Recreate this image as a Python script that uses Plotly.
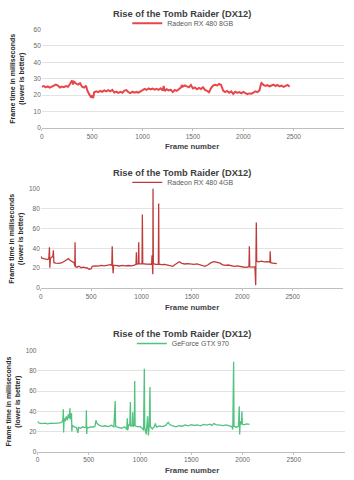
import plotly.graph_objects as go

TITLE = "Rise of the Tomb Raider (DX12)"
Y_TITLE = "Frame time in milliseconds<br>(lower is better)"
X_TITLE = "Frame number"
X_TICKS = [0, 500, 1000, 1500, 2000, 2500]

names = ["Radeon RX 480 8GB", "Radeon RX 480 4GB", "GeForce GTX 970"]
colors = ["#e8474a", "#c03a3a", "#52c27f"]

x1 = [0, 20, 40, 60, 80, 100, 120, 140, 160, 180, 200, 220, 240, 260, 280, 300, 310, 320, 340, 360,
      380, 400, 420, 440, 450, 460, 470, 480, 490, 500, 510, 520, 540, 560, 580, 600, 620, 640, 660, 680,
      700, 720, 740, 760, 780, 800, 820, 840, 860, 880, 900, 920, 940, 960, 980, 1000, 1020, 1040, 1060, 1080,
      1100, 1120, 1140, 1160, 1180, 1200, 1210, 1220, 1240, 1260, 1280, 1300, 1320, 1340, 1360, 1380, 1390, 1400, 1420, 1440,
      1460, 1480, 1500, 1520, 1540, 1560, 1580, 1600, 1620, 1640, 1660, 1680, 1700, 1720, 1740, 1760, 1780, 1800, 1820, 1840,
      1860, 1880, 1900, 1920, 1940, 1960, 1980, 2000, 2020, 2040, 2060, 2080, 2100, 2120, 2140, 2160, 2170, 2180, 2200, 2220,
      2240, 2260, 2280, 2300, 2320, 2340, 2360, 2380, 2400, 2420, 2440, 2460]
y1 = [25.2, 25.6, 24.8, 25.4, 24.6, 25.3, 25.8, 26.4, 25.9, 24.7, 25.3, 24.9, 25.5, 25.1, 26.8, 28.9, 26.5, 28.2, 27.1, 26.4,
      27.3, 25.2, 24.6, 25.8, 23.2, 21.4, 20.6, 19.8, 18.6, 19.9, 18.2, 21.8, 22.4, 21.9, 22.6, 22.1, 22.9, 22.3, 23.1, 22.4,
      23.2, 21.6, 22.2, 21.4, 22.0, 21.5, 22.8, 23.1, 21.8, 21.3, 22.1, 21.5, 22.0, 21.6, 22.4, 23.3, 23.8, 23.2, 24.1, 23.5,
      24.0, 23.4, 23.9, 23.3, 24.2, 22.8, 25.6, 22.5, 23.6, 22.9, 23.4, 21.9, 23.2, 22.6, 23.8, 24.6, 26.1, 25.2, 26.0, 25.3,
      24.8, 26.2, 24.1, 24.7, 23.6, 24.4, 23.8, 24.9, 23.2, 22.6, 21.8, 24.3, 25.8, 26.3, 25.9, 26.8, 26.2, 22.8, 21.9, 22.6,
      21.5, 22.3, 20.8, 22.1, 21.4, 21.9, 21.2, 22.0, 21.3, 20.7, 21.1, 20.9, 21.6, 22.4, 21.9, 22.8, 25.4, 27.4, 26.3, 25.6,
      26.1, 25.4, 25.9, 26.4, 25.6, 26.2, 25.3, 25.8, 25.1, 25.9, 26.3, 25.2]

x2 = [0, 10, 30, 50, 70, 80, 86, 90, 95, 110, 120, 125, 130, 150, 180, 210, 240, 260, 275, 290,
      310, 330, 338, 340, 343, 360, 380, 400, 420, 440, 460, 480, 500, 510, 540, 570, 600, 630, 660, 690,
      705, 709, 713, 718, 723, 750, 780, 810, 840, 870, 900, 930, 945, 949, 953, 969, 972, 975, 1005, 1008,
      1012, 1040, 1070, 1100, 1104, 1108, 1112, 1114, 1117, 1140, 1167, 1170, 1173, 1200, 1230, 1260, 1290, 1310, 1330, 1360,
      1375, 1400, 1430, 1460, 1490, 1520, 1550, 1580, 1610, 1630, 1660, 1690, 1720, 1750, 1780, 1800, 1830, 1860, 1890, 1920,
      1950, 1980, 2010, 2040, 2066, 2070, 2074, 2100, 2125, 2133, 2139, 2143, 2160, 2190, 2220, 2250, 2274, 2277, 2281, 2300,
      2320, 2343]
y2 = [32, 30, 29.5, 29, 28.6, 30, 41, 20.5, 30, 31, 32.5, 38, 25.5, 25, 24.8, 25.5, 27, 28.4, 29.6, 28,
      26.8, 25.5, 22, 46, 21.5, 21, 22, 20.5, 21, 20.6, 20.2, 19, 19.5, 21.8, 22.4, 22.1, 22.8, 22.4, 23, 23.6,
      23, 42, 24, 15, 23, 22.6, 22.2, 22.9, 22.3, 22.7, 22.4, 23.1, 24, 36, 24, 24.5, 46, 24.5, 24.3, 74,
      24.6, 24.2, 24.4, 24, 33, 24, 14, 100, 24.5, 23.9, 24, 85, 24, 23.6, 23.9, 23.2, 22.3, 21.8, 23.5, 25.4,
      26.4, 24.8, 24.2, 24.6, 24.1, 23.8, 24.3, 23.4, 22.6, 21.9, 23.4, 25.6, 26.6, 26.2, 25.1, 23.6, 22.8, 23.2, 22.4, 21.8,
      22.3, 21.4, 21.2, 20.9, 21.5, 42, 21.4, 21.1, 21.5, 3, 66, 27, 26.4, 27, 26.3, 26.6, 26, 37, 25.5, 25.2,
      24.8, 24.5]

x3 = [0, 15, 40, 70, 100, 130, 160, 190, 220, 240, 248, 252, 255, 260, 270, 280, 290, 300, 310, 316,
      320, 326, 332, 335, 340, 360, 380, 395, 400, 420, 440, 460, 474, 477, 480, 484, 500, 520, 540, 560,
      570, 580, 600, 630, 660, 690, 720, 745, 758, 762, 790, 820, 850, 870, 876, 880, 890, 900, 906, 910,
      925, 929, 933, 945, 948, 952, 980, 1000, 1020, 1035, 1042, 1046, 1060, 1068, 1074, 1078, 1082, 1090, 1097, 1101,
      1120, 1140, 1150, 1160, 1190, 1220, 1250, 1275, 1290, 1320, 1350, 1380, 1410, 1440, 1470, 1500, 1530, 1560, 1590, 1620,
      1650, 1680, 1700, 1720, 1750, 1780, 1810, 1840, 1870, 1895, 1905, 1913, 1917, 1940, 1960, 1965, 1968, 1972, 1978, 1990,
      1994, 1998, 2020, 2040, 2068]
y3 = [30, 28.5, 27.8, 28.3, 27.6, 28.2, 27.9, 28.1, 28.4, 29.5, 32, 42, 19, 33, 30, 35, 31, 37, 33, 43,
      32, 36, 38, 20, 26, 24.5, 23.8, 18.5, 24, 23.2, 24.6, 23.8, 24.3, 41, 17.5, 24, 23.5, 24.8, 24.2, 25,
      31, 28, 26.2, 25, 25.6, 24.8, 26.1, 24.5, 50, 24.8, 24, 23.2, 24.6, 22, 33, 21, 27, 26, 49, 25,
      26, 39, 25, 26, 70, 25.5, 24.6, 25, 23.2, 21, 82, 24, 17, 27, 35, 24, 16, 26, 64, 25,
      22.5, 25, 28, 24.2, 25.4, 24.8, 26, 29, 26.8, 25.4, 24.6, 25.8, 25.2, 26.4, 25.6, 26.8, 25.9, 26.5, 25.6, 26.9,
      26.3, 27.2, 26, 27.8, 26.4, 26.2, 25.8, 26.4, 25.6, 24.8, 22, 89, 25, 24.2, 25, 44, 45, 17, 30, 27,
      40, 27, 26.8, 27.4, 27]

xs = [x1, x2, x3]
ys = [y1, y2, y3]
y_ranges = [[0, 60], [0, 100], [0, 100]]
y_dtick = [10, 20, 20]
widths = [2.0, 1.3, 1.3]

W, H = 354, 480
# pixel geometry per panel: (x0px, x3000px, y0px(value 0), ytop px)
geom = [(40, 344, 126, 25.7), (39, 343, 288.3, 187.3), (35.7, 345, 454.3, 351.7)]
title_y = [10, 171, 335]
legend_y = [19.5, 181, 344.5]
xlab_y = [145, 307.5, 473]
ytitle_x = [16, 14.5, 11.5]

fig = go.Figure()
ann = []
for i in range(3):
    sfx = "" if i == 0 else str(i + 1)
    lg = "legend" if i == 0 else "legend" + str(i + 1)
    fig.add_trace(go.Scatter(x=xs[i], y=ys[i], mode="lines", name=names[i],
                             line=dict(color=colors[i], width=widths[i]),
                             xaxis="x" + sfx, yaxis="y" + sfx, legend=lg))
    x0, x1p, y0, yt = geom[i]
    xa = dict(domain=[x0 / W, x1p / W], range=[0, 3000], tickvals=X_TICKS,
              showgrid=False, showline=True, linecolor="#bfbfbf", linewidth=1,
              ticks="outside", ticklen=2, tickcolor="#bfbfbf",
              tickfont=dict(size=6.5, color="#666666", family="Liberation Sans"),
              anchor="y" + sfx, zeroline=False, fixedrange=True)
    ya = dict(domain=[1 - y0 / H, 1 - yt / H], range=y_ranges[i], dtick=y_dtick[i],
              showgrid=True, gridcolor="#e3e3e3", gridwidth=1, zeroline=False,
              showline=False, tickfont=dict(size=6.5, color="#666666", family="Liberation Sans"),
              anchor="x" + sfx, ticks="", fixedrange=True)
    fig.update_layout(**{"xaxis" + sfx: xa, "yaxis" + sfx: ya})
    fig.update_layout(**{lg: dict(x=0.515, y=1 - legend_y[i] / H, xanchor="center", yanchor="middle",
                                   orientation="h", bgcolor="rgba(0,0,0,0)",
                                   font=dict(size=7, color="#595959", family="Liberation Sans"),
                                   itemwidth=30, tracegroupgap=0)})
    ann.append(dict(text="<b>" + TITLE + "</b>", x=0.512, y=1 - title_y[i] / H, xref="paper", yref="paper",
                    showarrow=False, font=dict(size=9.3, color="#404040", family="Liberation Sans"),
                    xanchor="center", yanchor="middle"))
    ann.append(dict(text="<b>" + X_TITLE + "</b>", x=191 / W, y=1 - xlab_y[i] / H,
                    xref="paper", yref="paper", showarrow=False,
                    font=dict(size=7.8, color="#404040", family="Liberation Sans"),
                    xanchor="center", yanchor="middle"))
    ann.append(dict(text="<b>" + Y_TITLE + "</b>", x=ytitle_x[i] / W, y=1 - ((y0 + yt) / 2) / H,
                    xref="paper", yref="paper", showarrow=False, textangle=-90,
                    font=dict(size=7, color="#262626", family="Liberation Sans"),
                    xanchor="center", yanchor="middle"))

fig.update_layout(width=W, height=H, margin=dict(l=0, r=0, t=0, b=0),
                  paper_bgcolor="white", plot_bgcolor="white", annotations=ann,
                  showlegend=True)
fig.write_html("out.html")
